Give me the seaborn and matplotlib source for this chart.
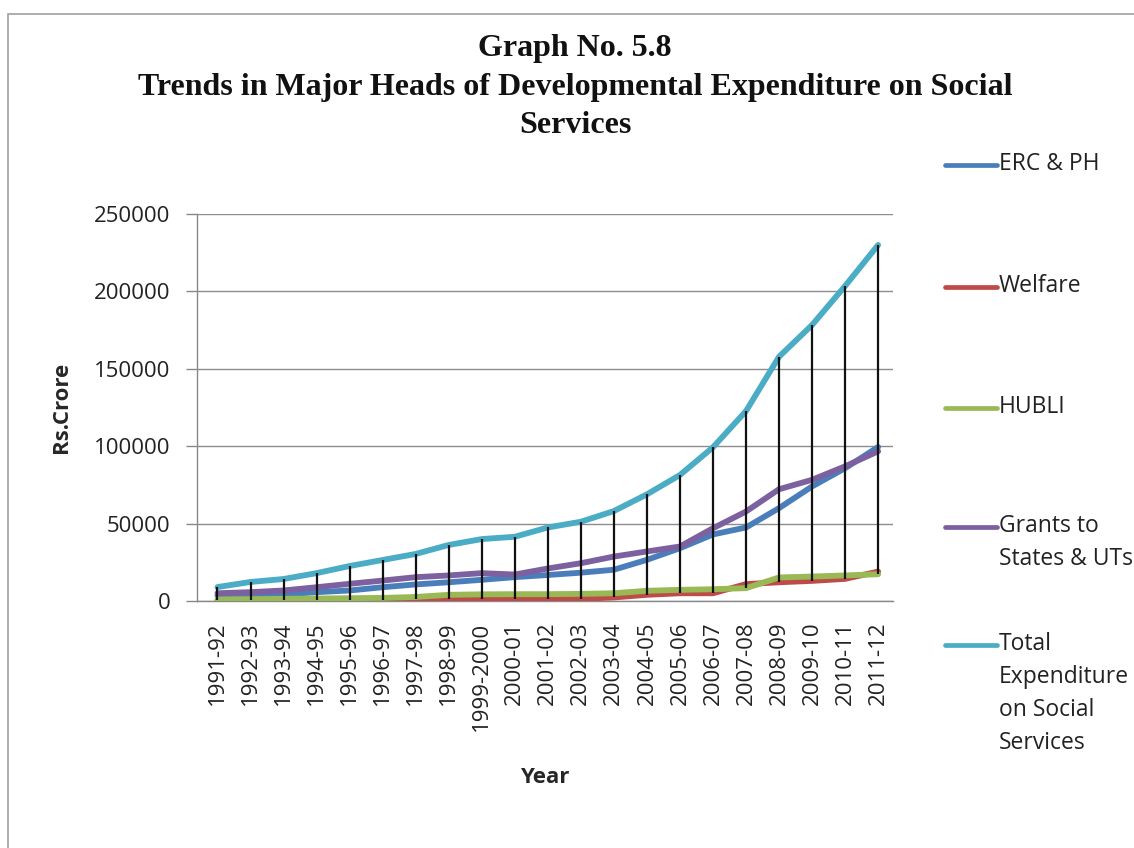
import numpy as np
import pandas as pd
import matplotlib
matplotlib.use('Agg')
import matplotlib.pyplot as plt
import seaborn as sns
from matplotlib.lines import Line2D
from matplotlib.patches import Rectangle

years = ['1991-92', '1992-93', '1993-94', '1994-95', '1995-96', '1996-97', '1997-98',
         '1998-99', '1999-2000', '2000-01', '2001-02', '2002-03', '2003-04', '2004-05',
         '2005-06', '2006-07', '2007-08', '2008-09', '2009-10', '2010-11', '2011-12']

erc = [3500, 4000, 4200, 5700, 6800, 8900, 10700, 12100, 13700, 15400, 16800,
       18300, 20200, 26600, 34100, 43000, 47500, 60000, 74000, 85800, 99500]
welfare = [400, 500, 600, 700, 800, 900, 1000, 1100, 1200, 1300, 1400,
           1400, 2300, 4000, 5000, 5000, 10900, 12100, 13000, 14300, 19000]
hubli = [1000, 1200, 1400, 1600, 1800, 2000, 2600, 4000, 4300, 4400, 4400,
         4600, 5000, 6600, 7200, 7600, 8300, 15200, 15800, 16500, 17300]
grants = [5000, 5700, 6800, 8900, 11100, 13200, 15400, 16500, 18000, 17100, 21000,
          24400, 28700, 32000, 35200, 47000, 57800, 72200, 78300, 87000, 96700]
total = [9000, 12300, 14200, 18000, 22600, 26500, 30400, 36200, 40000, 41500, 47500,
         51200, 58100, 68900, 81400, 99300, 122700, 157800, 178300, 203500, 230000]

series_names = ['ERC & PH', 'Welfare', 'HUBLI', 'Grants to States & UTs',
                'Total Expenditure on Social Services']
legend_labels = ['ERC & PH', 'Welfare', 'HUBLI', 'Grants to\nStates & UTs',
                 'Total\nExpenditure\non Social\nServices']
colors = ['#4A7EBB', '#BE4B48', '#98B954', '#7D60A0', '#4BACC6']

sns.set_style('white')
plt.rcParams['font.family'] = ['Open Sans', 'DejaVu Sans']

rows = []
for name, vals in zip(series_names, [erc, welfare, hubli, grants, total]):
    for i, v in enumerate(vals):
        rows.append({'idx': i, 'year': years[i], 'value': v, 'series': name})
df = pd.DataFrame(rows)

fig = plt.figure(figsize=(11.34, 8.48), dpi=100)
ax = fig.add_axes([197 / 1134, 1 - 601 / 848, (893 - 197) / 1134, (601 - 214) / 848])

sns.lineplot(data=df, x='idx', y='value', hue='series', hue_order=series_names,
             palette=colors, linewidth=4.2, legend=False, ax=ax, zorder=3)

# high-low lines between the highest and lowest series at each year
hi = df.groupby('idx')['value'].max()
lo = df.groupby('idx')['value'].min()
ax.vlines(hi.index, lo.values, hi.values, color='#111111', linewidth=1.6, zorder=4)

ax.set_xlim(-0.62, 20.45)
ax.set_ylim(0, 250000)
ax.set_yticks(np.arange(0, 250001, 50000))
ax.set_yticklabels([str(v) for v in range(0, 250001, 50000)], fontsize=16, color='#222222')
ax.set_xticks(range(len(years)))
ax.set_xticklabels(years, rotation=90, fontsize=16, color='#222222', va='top')
ax.tick_params(axis='x', length=0, pad=15)
ax.tick_params(axis='y', length=8, width=1, color='#888888', direction='out', pad=11, left=True)
ax.grid(axis='y', color='#8c8c8c', linewidth=1)
ax.set_axisbelow(True)
for s in ['top', 'right']:
    ax.spines[s].set_visible(False)
for s in ['left', 'bottom']:
    ax.spines[s].set_color('#888888')
    ax.spines[s].set_linewidth(1)

ax.set_xlabel('Year', fontsize=16, fontweight='bold', labelpad=26)
ax.set_ylabel('Rs.Crore', fontsize=16, fontweight='bold', labelpad=16)

fig.text(575 / 1134, 1 - 87 / 848,
         'Graph No. 5.8\nTrends in Major Heads of Developmental Expenditure on Social\nServices',
         ha='center', va='center', fontsize=23, fontweight='bold',
         family=['Liberation Serif', 'DejaVu Serif'], linespacing=1.44, color='#111111')

# legend on the right, handle level with the first line of each label
legend_y = [165, 287, 408, 527, 645]
for lab, col, y in zip(legend_labels, colors, legend_y):
    fig.add_artist(Line2D([945 / 1134, 997 / 1134], [1 - y / 848, 1 - y / 848],
                          color=col, linewidth=3.4, transform=fig.transFigure))
    fig.text(999 / 1134, 1 - (y - 13) / 848, lab, ha='left', va='top', fontsize=16.5,
             color='#222222', linespacing=1.5)

# outer chart border
fig.add_artist(Rectangle((8 / 1134, -0.1), 1.2, 1.1 - 14 / 848, fill=False,
                         edgecolor='#a0a0a0', linewidth=1.2, transform=fig.transFigure))

fig.savefig('out.png', dpi=100)
